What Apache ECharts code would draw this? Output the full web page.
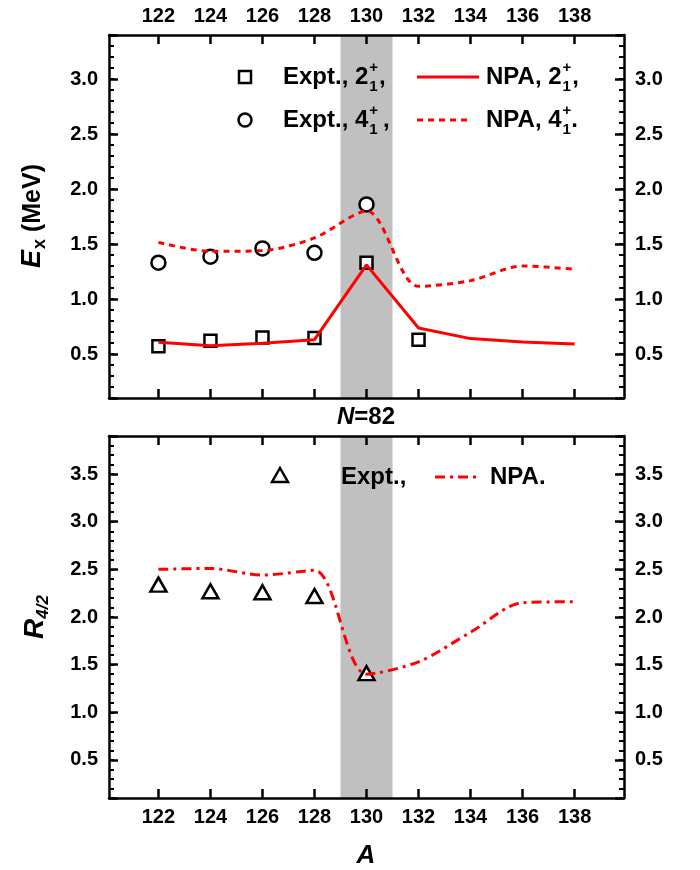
<!DOCTYPE html>
<html><head><meta charset="utf-8">
<script src="https://cdn.jsdelivr.net/npm/echarts@6/dist/echarts.min.js"></script>
<style>html,body{margin:0;padding:0;background:#fff}#c{width:700px;height:870px}</style>
</head><body><div id="c"></div>
<script>
// ---- data ----
const massNumbers = [122,124,126,128,130,132,134,136,138];
const expt2A = [122,124,126,128,130,132];
const expt2 = [0.57,0.62,0.65,0.645,1.33,0.63];
const expt4A = [122,124,126,128,130];
const expt4 = [1.33,1.385,1.46,1.42,1.86];
const npa2 = [0.606,0.576,0.597,0.63,1.31,0.736,0.64,0.61,0.59];
const npa4 = [1.515,1.433,1.44,1.555,1.80,1.115,1.167,1.30,1.27];
const exptRA = [122,124,126,128,130];
const exptR = [2.34,2.27,2.26,2.22,1.41];
const npaR = [2.50,2.51,2.44,2.49,1.40,1.53,1.84,2.15,2.16];
const xTickValues = [122,124,126,128,130,132,134,136,138];
const yTickTop = [0.5,1.0,1.5,2.0,2.5,3.0];
const yTickBot = [0.5,1.0,1.5,2.0,2.5,3.0,3.5];
const shellBand = [129,131];

// ---- helpers ----
const FF = '"Liberation Sans", Arial, sans-serif';
const ctx = document.createElement('canvas').getContext('2d');
function tw(t, font){ ctx.font = font; return ctx.measureText(t).width; }
function txt(x,y,text,font){
  return {type:'text', x:x, y:y, z:100, silent:true,
    style:{text:text, font:font, fill:'#000', align:'left', verticalAlign:'middle', textAlign:'left', textVerticalAlign:'middle'}};
}
function lineText(x, y, pieces, anchor){
  let total = 0;
  pieces.forEach(p => {
    p.w = p.stack ? Math.max(tw(p.stack[0],p.font), tw(p.stack[1],p.font)) : tw(p.text,p.font);
    total += p.w + (p.gap||0);
  });
  let cx = anchor==='center' ? x - total/2 : x;
  const els = [];
  pieces.forEach(p => {
    if (p.stack){
      els.push(txt(cx, y + p.up, p.stack[0], p.font));
      els.push(txt(cx, y + p.down, p.stack[1], p.font));
    } else {
      els.push(txt(cx, y + (p.dy||0), p.text, p.font));
    }
    cx += p.w + (p.gap||0);
  });
  return els;
}
const B24 = 'bold 24px ' + FF;
const B15 = 'bold 15px ' + FF;
const SS = {font:B15, up:-9, down:10};

// ---- axes ----
const axisLineStyle = {color:'#000', width:2.5};
function xAx(grid, pos, showLabel){
  return {type:'value', gridIndex:grid, position:pos, min:120.1, max:139.9, z:10,
    axisLine:{show:true, onZero:false, lineStyle:axisLineStyle},
    axisTick:{show:true, inside:true, length:9, lineStyle:{color:'#000', width:2.5}, customValues:xTickValues},
    axisLabel:{show:showLabel, customValues:xTickValues, margin:9, color:'#000', fontFamily:FF, fontWeight:'bold', fontSize:20, formatter:v=>String(Math.round(v))},
    splitLine:{show:false}};
}
function yAx(grid, pos, mn, mx, ticks){
  return {type:'value', gridIndex:grid, position:pos, min:mn, max:mx, z:10,
    axisLine:{show:true, onZero:false, lineStyle:axisLineStyle},
    axisTick:{show:false},
    axisLabel:{show:true, customValues:ticks, margin:11, color:'#000', fontFamily:FF, fontWeight:'bold', fontSize:20, formatter:v=>v.toFixed(1)},
    splitLine:{show:false}};
}
// major ticks (auto nice interval 0.5, aligned to multiples)
function yMajor(grid, pos, mn, mx){
  return {type:'value', gridIndex:grid, position:pos, min:mn, max:mx, splitNumber:7, z:10,
    axisLine:{show:false, onZero:false},
    axisTick:{show:true, inside:true, length:9, lineStyle:{color:'#000', width:2.5}},
    axisLabel:{show:false}, splitLine:{show:false}};
}
// minor ticks every 0.1
function yMinor(grid, pos, mn, mx){
  return {type:'value', gridIndex:grid, position:pos, min:mn, max:mx, interval:0.1, z:10,
    axisLine:{show:false, onZero:false},
    axisTick:{show:true, inside:true, length:5, lineStyle:{color:'#000', width:2}},
    axisLabel:{show:false}, splitLine:{show:false}};
}

const zip = (xs, ys) => xs.map((x,i)=>[x, ys[i]]);
const markerStyle = {color:'#fff', borderColor:'#000', borderWidth:2.5, opacity:1};

// ---- legend / labels graphics ----
const graphics = [];
graphics.push({type:'rect', z:100, shape:{x:239, y:71, width:12, height:12}, style:{fill:'#fff', stroke:'#000', lineWidth:2.5}});
graphics.push(...lineText(283, 77, [{text:'Expt., 2', font:B24, gap:1},{stack:['+','1'], ...SS, gap:1},{text:',', font:B24}], 'left'));
graphics.push({type:'line', z:100, shape:{x1:417, y1:77, x2:479, y2:77}, style:{stroke:'#ff0000', lineWidth:3}});
graphics.push(...lineText(486, 77, [{text:'NPA, 2', font:B24, gap:1},{stack:['+','1'], ...SS, gap:1},{text:',', font:B24}], 'left'));
graphics.push({type:'circle', z:100, shape:{cx:245, cy:120, r:6.5}, style:{fill:'#fff', stroke:'#000', lineWidth:2.5}});
graphics.push(...lineText(283, 120, [{text:'Expt., 4', font:B24, gap:1},{stack:['+','1'], ...SS, gap:5},{text:',', font:B24}], 'left'));
graphics.push({type:'line', z:100, shape:{x1:417, y1:120, x2:472, y2:120}, style:{stroke:'#ff0000', lineWidth:3, lineDash:[6,5]}});
graphics.push(...lineText(486, 120, [{text:'NPA, 4', font:B24, gap:1},{stack:['+','1'], ...SS, gap:0},{text:'.', font:B24}], 'left'));
graphics.push({type:'polygon', z:100, shape:{points:[[280,468],[288,482],[272,482]]}, style:{fill:'#fff', stroke:'#000', lineWidth:2.5, lineJoin:'miter'}});
graphics.push(...lineText(341, 477, [{text:'Expt.,', font:B24}], 'left'));
graphics.push({type:'line', z:100, shape:{x1:435, y1:477, x2:480, y2:477}, style:{stroke:'#ff0000', lineWidth:3, lineDash:[10,5,3,5]}});
graphics.push(...lineText(490, 477, [{text:'NPA.', font:B24}], 'left'));
graphics.push(...lineText(366, 417, [{text:'N', font:'italic bold 24px '+FF},{text:'=82', font:B24}], 'center'));
graphics.push(...lineText(366, 856, [{text:'A', font:'italic bold 26px '+FF}], 'center'));
graphics.push({type:'group', x:33, y:216, rotation:Math.PI/2, z:100,
  children: lineText(0, 0, [{text:'E', font:'italic bold 27px '+FF, gap:1},{text:'x', font:'bold 18px '+FF, dy:7, gap:0},{text:' (MeV)', font:'bold 25px '+FF}], 'center')});
graphics.push({type:'group', x:35, y:617, rotation:Math.PI/2, z:100,
  children: lineText(0, 0, [{text:'R', font:'italic bold 28px '+FF, gap:0},{text:'4/2', font:'italic bold 17px '+FF, dy:8}], 'center')});

const option = {
  backgroundColor:'#fff',
  animation:false,
  grid:[
    {left:109, top:35, width:515, height:363},
    {left:109, top:436, width:515, height:362}
  ],
  xAxis:[ xAx(0,'bottom',false), xAx(0,'top',true), xAx(1,'bottom',true), xAx(1,'top',false) ],
  yAxis:[
    yAx(0,'left',0.1,3.4,yTickTop), yAx(0,'right',0.1,3.4,yTickTop),
    yMinor(0,'left',0.1,3.4), yMinor(0,'right',0.1,3.4),
    yMajor(0,'left',0.1,3.4), yMajor(0,'right',0.1,3.4),
    yAx(1,'left',0.1,3.9,yTickBot), yAx(1,'right',0.1,3.9,yTickBot),
    yMinor(1,'left',0.1,3.9), yMinor(1,'right',0.1,3.9),
    yMajor(1,'left',0.1,3.9), yMajor(1,'right',0.1,3.9)
  ],
  graphic: graphics,
  series:[
    {type:'line', xAxisIndex:0, yAxisIndex:0, data:[], z:1, silent:true,
      markArea:{silent:true, itemStyle:{color:'#c0c0c0'}, data:[[{xAxis:shellBand[0]},{xAxis:shellBand[1]}]]}},
    {type:'line', xAxisIndex:2, yAxisIndex:6, data:[], z:1, silent:true,
      markArea:{silent:true, itemStyle:{color:'#c0c0c0'}, data:[[{xAxis:shellBand[0]},{xAxis:shellBand[1]}]]}},
    {name:'Expt 2', type:'scatter', xAxisIndex:0, yAxisIndex:0, z:3, symbol:'rect', symbolSize:12, itemStyle:markerStyle, data:zip(expt2A, expt2)},
    {name:'Expt 4', type:'scatter', xAxisIndex:0, yAxisIndex:0, z:3, symbol:'circle', symbolSize:14, itemStyle:markerStyle, data:zip(expt4A, expt4)},
    {name:'NPA 2', type:'line', xAxisIndex:0, yAxisIndex:0, z:4, showSymbol:false, symbol:'none', lineStyle:{color:'#ff0000', width:3}, data:zip(massNumbers, npa2)},
    {name:'NPA 4', type:'line', xAxisIndex:0, yAxisIndex:0, z:4, showSymbol:false, symbol:'none', smooth:0.3, lineStyle:{color:'#ff0000', width:3, type:[6,5]}, data:zip(massNumbers, npa4)},
    {name:'Expt R', type:'scatter', xAxisIndex:2, yAxisIndex:6, z:3, symbol:'triangle', symbolSize:[16,14], itemStyle:markerStyle, data:zip(exptRA, exptR)},
    {name:'NPA R', type:'line', xAxisIndex:2, yAxisIndex:6, z:4, showSymbol:false, symbol:'none', smooth:0.3, lineStyle:{color:'#ff0000', width:3, type:[10,5,3,5]}, data:zip(massNumbers, npaR)}
  ]
};
const chart = echarts.init(document.getElementById('c'), null, {renderer:'canvas'});
chart.setOption(option);
</script>
</body></html>
